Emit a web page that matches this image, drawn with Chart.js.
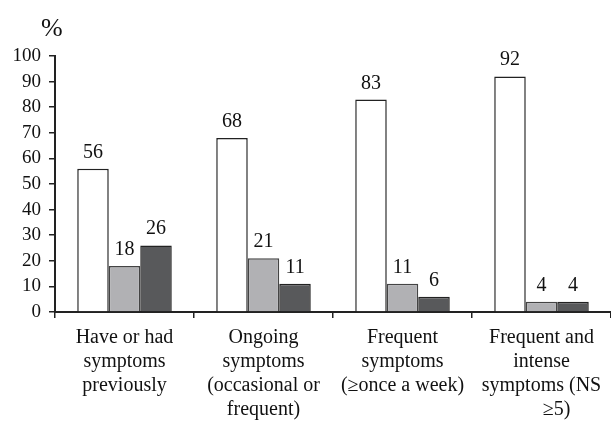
<!DOCTYPE html>
<html>
<head>
<meta charset="utf-8">
<script src="https://cdn.jsdelivr.net/npm/chart.js@4/dist/chart.umd.min.js"></script>
<style>
  html, body { margin: 0; padding: 0; background: #fff; }
  #wrap { width: 611px; height: 423px; }
</style>
</head>
<body>
<div id="wrap"><canvas id="myChart"></canvas></div>
<script>
const categories = [
    ['Have or had', 'symptoms', 'previously'],
    ['Ongoing', 'symptoms', '(occasional or', 'frequent)'],
    ['Frequent', 'symptoms', '(\u2265once a week)'],
    ['Frequent and', 'intense', 'symptoms (NS', '      \u22655)']
];
const seriesA = [56, 68, 83, 92];
const seriesB = [18, 21, 11, 4];
const seriesC = [26, 11, 6, 4];
const yTicks = [0, 10, 20, 30, 40, 50, 60, 70, 80, 90, 100];

const serif = "'Liberation Serif', 'Times New Roman', serif";

// draws the value above each bar, plus the "%" unit at top left
const valueLabels = {
    id: 'valueLabels',
    afterDatasetsDraw(chart) {
        const ctx = chart.ctx;
        ctx.save();
        ctx.fillStyle = '#111';
        ctx.font = '20px ' + serif;
        ctx.textAlign = 'center';
        ctx.textBaseline = 'alphabetic';
        chart.data.datasets.forEach((ds, i) => {
            chart.getDatasetMeta(i).data.forEach((bar, j) => {
                ctx.fillText(ds.data[j], bar.x, bar.y - 11);
            });
        });
        ctx.font = '26px ' + serif;
        ctx.textAlign = 'left';
        ctx.fillText('%', 41, 36);
        ctx.restore();
    }
};

const ctx = document.getElementById('myChart').getContext('2d');
const myChart = new Chart(ctx, {
    type: 'bar',
    data: {
        labels: categories,
        datasets: [{
            data: seriesA,
            backgroundColor: '#ffffff',
            borderColor: '#222222',
            borderWidth: 1.5
        }, {
            data: seriesB,
            backgroundColor: '#b1b1b4',
            borderColor: '#444444',
            borderWidth: 1.5
        }, {
            data: seriesC,
            backgroundColor: '#58595b',
            borderColor: '#222222',
            borderWidth: 1.5
        }]
    },
    options: {
        responsive: true,
        maintainAspectRatio: false,
        animation: false,
        layout: { padding: { top: 56, left: 0, right: 0, bottom: 0 } },
        plugins: {
            legend: { display: false },
            tooltip: { enabled: false }
        },
        datasets: {
            bar: { categoryPercentage: 0.68, barPercentage: 1.0 }
        },
        scales: {
            x: {
                afterFit(scale) { scale.height = 111; },
                grid: {
                    offset: true,
                    drawOnChartArea: false,
                    drawTicks: true,
                    tickLength: 6,
                    color: '#222',
                    lineWidth: 1.5
                },
                border: { display: true, color: '#222', width: 2 },
                ticks: {
                    color: '#111',
                    font: { family: serif, size: 20, lineHeight: 1.2 },
                    padding: 8,
                    maxRotation: 0,
                    autoSkip: false
                }
            },
            y: {
                min: 0,
                max: 100,
                afterFit(scale) { scale.width = 55; },
                afterBuildTicks(scale) { scale.ticks = yTicks.map(v => ({ value: v })); },
                grid: {
                    drawOnChartArea: false,
                    drawTicks: true,
                    tickLength: 6,
                    color: '#222',
                    lineWidth: 1.5
                },
                border: { display: true, color: '#222', width: 2 },
                ticks: {
                    color: '#111',
                    font: { family: serif, size: 19 },
                    padding: 8,
                    autoSkip: false
                }
            }
        }
    },
    plugins: [valueLabels]
});
</script>
</body>
</html>
